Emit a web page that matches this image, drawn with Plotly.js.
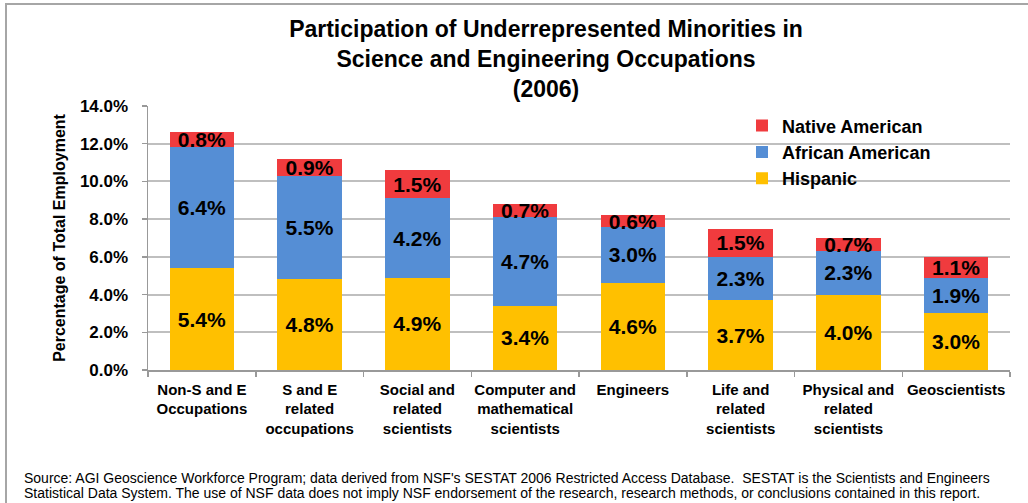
<!DOCTYPE html>
<html>
<head>
<meta charset="utf-8">
<script src="https://cdn.plot.ly/plotly-3.0.1.min.js"></script>
<style>
  html, body { margin: 0; padding: 0; background: #fff; overflow: hidden; }
  #chart { width: 1028px; height: 503px; position: absolute; left: 0; top: 0; }
  #frame { position: absolute; left: 5px; top: 3px; width: 1040px; height: 520px;
           border-left: 2px solid #a6a6a6; border-top: 2px solid #a6a6a6; pointer-events: none; }
</style>
</head>
<body>
<div id="chart"></div>
<div id="frame"></div>
<script>
const titleLines = [
  "Participation of Underrepresented Minorities in",
  "Science and Engineering Occupations",
  "(2006)"
];
const categories = [
  "Non-S and E<br>Occupations",
  "S and E<br>related<br>occupations",
  "Social and<br>related<br>scientists",
  "Computer and<br>mathematical<br>scientists",
  "Engineers",
  "Life and<br>related<br>scientists",
  "Physical and<br>related<br>scientists",
  "Geoscientists"
];
const hispanic = [5.4, 4.8, 4.9, 3.4, 4.6, 3.7, 4.0, 3.0];
const africanAmerican = [6.4, 5.5, 4.2, 4.7, 3.0, 2.3, 2.3, 1.9];
const nativeAmerican = [0.8, 0.9, 1.5, 0.7, 0.6, 1.5, 0.7, 1.1];
const yTicks = [0, 2, 4, 6, 8, 10, 12, 14];
const sourceLines = [
  "Source: AGI Geoscience Workforce Program; data derived from NSF's SESTAT 2006 Restricted Access Database.  SESTAT is the Scientists and Engineers",
  "Statistical Data System. The use of NSF data does not imply NSF endorsement of the research, research methods, or conclusions contained in this report."
];

const FONT = "Liberation Sans, Arial, sans-serif";
const labelFont = { family: FONT, size: 21, color: "#000", weight: "bold" };

// plot-area geometry (for placing text outside the axes in paper units)
const PL = 148, PR = 1010, PT = 106, PB = 370;
const px2x = px => (px - PL) / (PR - PL);
const py2y = py => (PB - py) / (PB - PT);

function barTrace(name, values, color, rank) {
  return {
    type: "bar", name: name, x: categories, y: values,
    legendrank: rank,
    marker: { color: color, line: { width: 0 } },
    width: 0.6,
    text: values.map(v => v.toFixed(1) + "%"),
    textposition: "inside", insidetextanchor: "middle",
    constraintext: "none", cliponaxis: false,
    textfont: labelFont,
    hoverinfo: "skip"
  };
}

const data = [
  barTrace("Hispanic", hispanic, "#FFC000", 3),
  barTrace("African American", africanAmerican, "#558ED5", 2),
  barTrace("Native American", nativeAmerican, "#F03B3E", 1)
];

const annotations = sourceLines.map((t, i) => ({
  text: t, xref: "paper", yref: "paper",
  x: px2x(22), xanchor: "left",
  y: py2y(478 + i * 15), yanchor: "middle",
  showarrow: false,
  font: { family: FONT, size: 14, color: "#000" }
}));

const layout = {
  width: 1028, height: 503,
  margin: { l: PL, r: 1028 - PR, t: PT, b: 503 - PB },
  paper_bgcolor: "#fff", plot_bgcolor: "#fff",
  barmode: "stack",
  font: { family: FONT, color: "#000" },
  title: {
    text: "<b>" + titleLines.join("<br>") + "</b>",
    font: { family: FONT, size: 23, color: "#000" },
    x: 546 / 1028, xref: "container", xanchor: "center",
    y: 1 - 37 / 503, yref: "container", yanchor: "middle"
  },
  xaxis: {
    type: "category",
    tickson: "boundaries", ticks: "outside", ticklen: 5, tickcolor: "#999", tickwidth: 1.5,
    showline: true, linecolor: "#999", linewidth: 1.5,
    tickangle: 0,
    tickfont: { family: FONT, size: 15, weight: "bold", color: "#000" },
    ticklabelstandoff: 5,
    showgrid: false, zeroline: false,
    fixedrange: true
  },
  yaxis: {
    range: [0, 14], tickvals: yTicks,
    ticktext: yTicks.map(v => v.toFixed(1) + "%"),
    ticks: "outside", ticklen: 5, tickcolor: "#999", tickwidth: 1.5,
    showline: true, linecolor: "#999", linewidth: 1.5,
    showgrid: true, gridcolor: "#BFBFBF", gridwidth: 2,
    zeroline: false,
    tickfont: { family: FONT, size: 17, weight: "bold", color: "#000" },
    ticklabelstandoff: 10,
    title: { text: "<b>Percentage of Total Employment</b>", font: { family: FONT, size: 16, color: "#000" }, standoff: 10 },
    fixedrange: true
  },
  legend: {
    x: px2x(742), xanchor: "left", y: 0.995, yanchor: "top",
    traceorder: "normal", tracegroupgap: 2,
    font: { family: FONT, size: 18, weight: "bold", color: "#000" },
    bgcolor: "rgba(0,0,0,0)", itemwidth: 30
  },
  annotations: annotations
};

Plotly.newPlot("chart", data, layout, { displayModeBar: false, staticPlot: true });
</script>
</body>
</html>
